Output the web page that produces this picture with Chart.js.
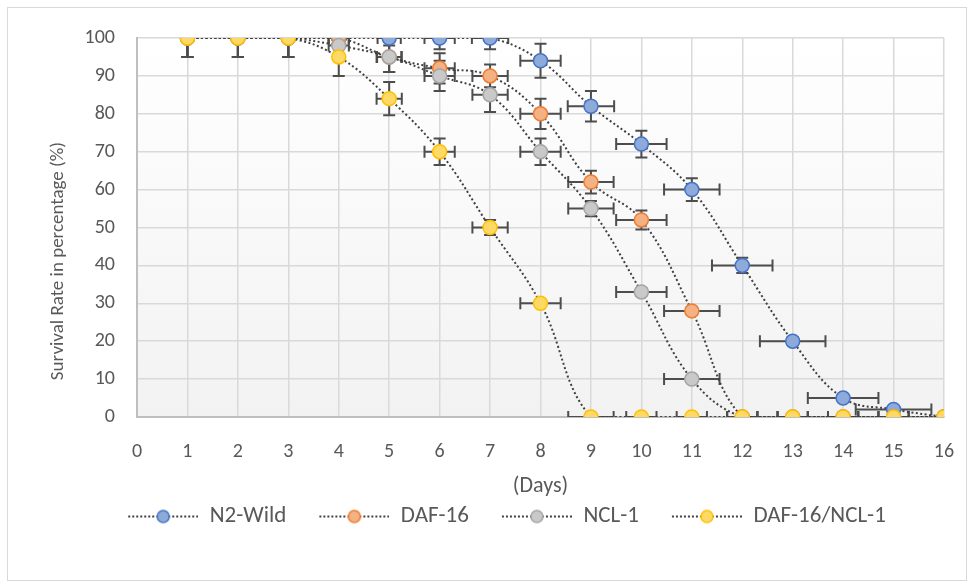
<!DOCTYPE html>
<html>
<head>
<meta charset="utf-8">
<script src="https://cdn.jsdelivr.net/npm/chart.js@4.4.0/dist/chart.umd.min.js"></script>
<style>
  body { margin: 0; background: #fff; }
  #wrap { width: 974px; height: 588px; position: relative; }
</style>
</head>
<body>
<div id="wrap"><canvas id="myChart" width="974" height="588"></canvas></div>
<script>
// days on the x axis
const days = [1, 2, 3, 4, 5, 6, 7, 8, 9, 10, 11, 12, 13, 14, 15, 16];
const xTicks = [0, 1, 2, 3, 4, 5, 6, 7, 8, 9, 10, 11, 12, 13, 14, 15, 16];
const yTicks = [0, 10, 20, 30, 40, 50, 60, 70, 80, 90, 100];

// survival (%)
const n2Wild = [100, 100, 100, 100, 100, 100, 100, 94, 82, 72, 60, 40, 20, 5, 2, 0];
const daf16 = [100, 100, 100, 100, 95, 92, 90, 80, 62, 52, 28, 0, 0, 0, 0, 0];
const ncl1 = [100, 100, 100, 98, 95, 90, 85, 70, 55, 33, 10, 0, 0, 0, 0, 0];
const dafNcl = [100, 100, 100, 95, 84, 70, 50, 30, 0, 0, 0, 0, 0, 0, 0, 0];

// error bars (y in %, x in days)
const n2WildYErr = [5, 5, 5, 5, 2, 3, 3, 4.5, 4, 3.5, 3, 2, 1, 0, 0, 0];
const n2WildXErr = [0, 0, 0, 0.2, 0.23, 0.3, 0.36, 0.4, 0.46, 0.5, 0.55, 0.6, 0.65, 0.7, 0.75, 0];
const daf16YErr = [5, 5, 5, 5, 4, 4, 3, 4, 3, 2.5, 1, 0, 0, 0, 0, 0];
const daf16XErr = [0, 0, 0, 0.2, 0.25, 0.3, 0.35, 0.4, 0.45, 0.5, 0.55, 0.3, 0.3, 0.3, 0.3, 0];
const ncl1YErr = [5, 5, 5, 3, 4, 4, 4.5, 3.5, 2, 1, 0, 0, 0, 0, 0, 0];
const ncl1XErr = [0, 0, 0, 0.2, 0.24, 0.3, 0.35, 0.4, 0.45, 0.5, 0.55, 0.3, 0.3, 0.3, 0.3, 0];
const dafNclYErr = [5, 5, 5, 5, 4.4, 3.5, 2, 0.5, 0, 0, 0, 0, 0, 0, 0, 0];
const dafNclXErr = [0, 0, 0, 0, 0.25, 0.3, 0.35, 0.4, 0.45, 0.3, 0.3, 0.3, 0.3, 0.3, 0.3, 0];

const names = ["N2-Wild", "DAF-16", "NCL-1", "DAF-16/NCL-1"];
const fills = ["#8eaadb", "#f4b183", "#c9c9c9", "#ffd966"];
const strokes = ["#4472c4", "#ed7d31", "#a5a5a5", "#ffc000"];

const font = "Carlito, Lato, sans-serif";
const grey = "#595959";

function toPts(vals) {
  return vals.map((v, i) => ({ x: days[i], y: v }));
}

// legend icon: dotted line with marker (left part is just spacing)
function makeIcon(fill, stroke) {
  const c = document.createElement("canvas");
  c.width = 100;
  c.height = 16;
  const g = c.getContext("2d");
  g.strokeStyle = "#404040";
  g.lineWidth = 2;
  g.setLineDash([2, 2]);
  g.beginPath();
  g.moveTo(30, 8);
  g.lineTo(100, 8);
  g.stroke();
  g.setLineDash([]);
  g.beginPath();
  g.arc(65, 8, 6, 0, Math.PI * 2);
  g.fillStyle = fill;
  g.fill();
  g.lineWidth = 1.5;
  g.strokeStyle = stroke;
  g.stroke();
  return c;
}
const icons = fills.map((f, i) => makeIcon(f, strokes[i]));

const allVals = [n2Wild, daf16, ncl1, dafNcl];
const allYErr = [n2WildYErr, daf16YErr, ncl1YErr, dafNclYErr];
const allXErr = [n2WildXErr, daf16XErr, ncl1XErr, dafNclXErr];

const datasets = names.map((n, i) => ({
  label: n,
  data: toPts(allVals[i]),
  yErr: allYErr[i],
  xErr: allXErr[i],
  showLine: true,
  tension: 0.4,
  borderColor: "#404040",
  borderWidth: 2,
  borderDash: [2, 2.5],
  pointRadius: 7,
  pointHoverRadius: 7,
  pointBackgroundColor: fills[i],
  pointBorderColor: strokes[i],
  pointBorderWidth: 1.5,
  order: 4 - i,
}));

const frame = {
  id: "frame",
  beforeDraw(chart) {
    const { ctx, chartArea: a } = chart;
    ctx.save();
    ctx.strokeStyle = "#d9d9d9";
    ctx.lineWidth = 1;
    ctx.strokeRect(7.5, 7.5, 959, 573);
    const grd = ctx.createLinearGradient(0, a.top, 0, a.bottom);
    grd.addColorStop(0, "#ffffff");
    grd.addColorStop(1, "#f2f2f2");
    ctx.fillStyle = grd;
    ctx.fillRect(a.left, a.top, a.right - a.left, a.bottom - a.top);
    ctx.restore();
  },
  afterDraw(chart) {
    const { ctx } = chart;
    ctx.save();
    ctx.translate(58, 261);
    ctx.rotate(-Math.PI / 2);
    ctx.fillStyle = grey;
    ctx.font = "19px " + font;
    ctx.textAlign = "center";
    ctx.textBaseline = "middle";
    ctx.fillText("Survival Rate in percentage (%)", 0, 0);
    ctx.restore();
  },
};

const errorBars = {
  id: "errorBars",
  beforeDatasetsDraw(chart) {
    const { ctx, chartArea: a, scales } = chart;
    const sx = scales.x, sy = scales.y;
    const cap = 6;
    ctx.save();
    ctx.beginPath();
    ctx.rect(a.left, a.top, a.right - a.left, a.bottom - a.top);
    ctx.clip();
    ctx.strokeStyle = "#4d4d4d";
    ctx.lineWidth = 2;
    chart.data.datasets.forEach((ds) => {
      ds.data.forEach((p, i) => {
        const px = sx.getPixelForValue(p.x);
        const py = sy.getPixelForValue(p.y);
        const ey = ds.yErr[i];
        const ex = ds.xErr[i];
        ctx.beginPath();
        if (ey > 0) {
          const y1 = sy.getPixelForValue(p.y - ey);
          const y2 = sy.getPixelForValue(p.y + ey);
          ctx.moveTo(px, y1); ctx.lineTo(px, y2);
          ctx.moveTo(px - cap, y1); ctx.lineTo(px + cap, y1);
          ctx.moveTo(px - cap, y2); ctx.lineTo(px + cap, y2);
        }
        if (ex > 0) {
          const x1 = sx.getPixelForValue(p.x - ex);
          const x2 = sx.getPixelForValue(p.x + ex);
          ctx.moveTo(x1, py); ctx.lineTo(x2, py);
          ctx.moveTo(x1, py - cap); ctx.lineTo(x1, py + cap);
          ctx.moveTo(x2, py - cap); ctx.lineTo(x2, py + cap);
        }
        ctx.stroke();
      });
    });
    ctx.restore();
  },
};

const ctx = document.getElementById("myChart");
new Chart(ctx, {
  type: "scatter",
  data: { datasets: datasets },
  options: {
    responsive: false,
    animation: false,
    layout: { padding: { left: 40, right: 30, top: 38, bottom: 50 } },
    plugins: {
      tooltip: { enabled: false },
      legend: {
        position: "bottom",
        labels: {
          usePointStyle: true,
          pointStyleWidth: 100,
          boxHeight: 16,
          padding: 3,
          color: grey,
          font: { family: font, size: 23 },
          generateLabels: (chart) =>
            chart.data.datasets.map((ds, i) => ({
              text: ds.label,
              pointStyle: icons[i],
              fontColor: grey,
              datasetIndex: i,
              hidden: false,
              lineWidth: 0,
              strokeStyle: "transparent",
              fillStyle: "transparent",
            })),
        },
      },
    },
    scales: {
      x: {
        type: "linear",
        min: 0,
        max: 16,
        afterBuildTicks: (s) => { s.ticks = xTicks.map((v) => ({ value: v })); },
        afterFit: (s) => { s.height = 85; s.paddingLeft = 0; s.paddingRight = 0; },
        grid: { color: "#d9d9d9", lineWidth: 1.5, drawTicks: false },
        border: { color: "#bfbfbf", width: 2 },
        ticks: { color: grey, font: { family: font, size: 20 }, padding: 23 },
        title: {
          display: true,
          text: "(Days)",
          color: grey,
          font: { family: font, size: 22 },
          padding: { top: 14, bottom: 2 },
        },
      },
      y: {
        type: "linear",
        min: 0,
        max: 100,
        afterBuildTicks: (s) => { s.ticks = yTicks.map((v) => ({ value: v })); },
        afterFit: (s) => { s.width = 97; },
        grid: { color: "#d9d9d9", lineWidth: 1.5, drawTicks: false },
        border: { color: "#bfbfbf", width: 2 },
        ticks: { color: grey, font: { family: font, size: 20 }, padding: 22 },
      },
    },
  },
  plugins: [frame, errorBars],
});
</script>
</body>
</html>
